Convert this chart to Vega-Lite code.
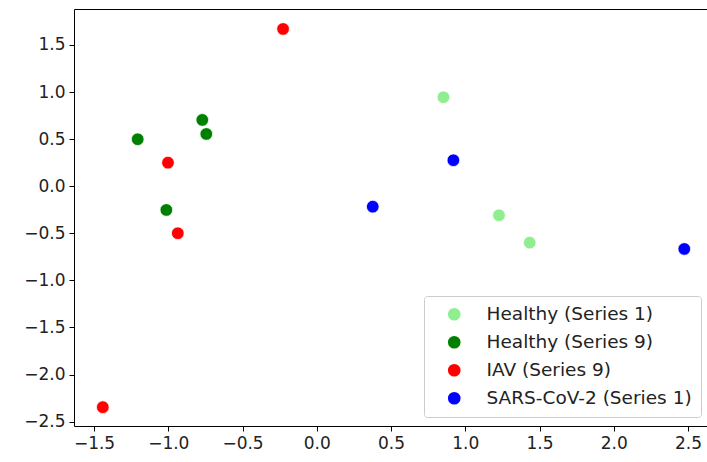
{
  "$schema": "https://vega.github.io/schema/vega-lite/v6.json",
  "autosize": {"type": "none"},
  "padding": {"left": 74, "top": 9, "right": 0, "bottom": 36},
  "width": 633,
  "height": 417,
  "background": "white",
  "config": {
    "font": "DejaVu Sans",
    "view": {"stroke": "#000000", "strokeWidth": 1},
    "axis": {
      "grid": false,
      "domain": false,
      "tickColor": "#000000",
      "tickSize": 5,
      "tickWidth": 1,
      "labelFont": "DejaVu Sans",
      "labelFontSize": 17,
      "labelColor": "#222222",
      "labelPadding": 4,
      "title": null
    }
  },
  "data": {
    "values": [
      {"x": 0.853, "y": 0.945, "group": "Healthy (Series 1)"},
      {"x": 1.227, "y": -0.308, "group": "Healthy (Series 1)"},
      {"x": 1.434, "y": -0.599, "group": "Healthy (Series 1)"},
      {"x": -1.206, "y": 0.499, "group": "Healthy (Series 9)"},
      {"x": -0.771, "y": 0.704, "group": "Healthy (Series 9)"},
      {"x": -0.744, "y": 0.555, "group": "Healthy (Series 9)"},
      {"x": -1.013, "y": -0.252, "group": "Healthy (Series 9)"},
      {"x": -0.227, "y": 1.67, "group": "IAV (Series 9)"},
      {"x": -1.002, "y": 0.25, "group": "IAV (Series 9)"},
      {"x": -0.936, "y": -0.499, "group": "IAV (Series 9)"},
      {"x": -1.441, "y": -2.346, "group": "IAV (Series 9)"},
      {"x": 0.377, "y": -0.217, "group": "SARS-CoV-2 (Series 1)"},
      {"x": 0.92, "y": 0.276, "group": "SARS-CoV-2 (Series 1)"},
      {"x": 2.475, "y": -0.666, "group": "SARS-CoV-2 (Series 1)"}
    ]
  },
  "mark": {"type": "point", "shape": "circle", "filled": true, "opacity": 1, "size": 160, "stroke": "white", "strokeWidth": 0.75},
  "encoding": {
    "x": {
      "field": "x", "type": "quantitative",
      "scale": {"domain": [-1.635, 2.628], "nice": false, "zero": false},
      "axis": {"values": [-1.5, -1.0, -0.5, 0.0, 0.5, 1.0, 1.5, 2.0, 2.5], "format": ".1f"}
    },
    "y": {
      "field": "y", "type": "quantitative",
      "scale": {"domain": [-2.546, 1.882], "nice": false, "zero": false},
      "axis": {"values": [-2.5, -2.0, -1.5, -1.0, -0.5, 0.0, 0.5, 1.0, 1.5], "format": ".1f"}
    },
    "color": {
      "field": "group", "type": "nominal",
      "scale": {
        "domain": ["Healthy (Series 1)", "Healthy (Series 9)", "IAV (Series 9)", "SARS-CoV-2 (Series 1)"],
        "range": ["#90EE90", "#008000", "#FF0000", "#0000FF"]
      },
      "legend": {
        "title": null,
        "orient": "none",
        "legendX": 350,
        "legendY": 287,
        "padding": 9,
        "symbolOffset": 12,
        "strokeColor": "#cccccc",
        "fillColor": "white",
        "cornerRadius": 3,
        "symbolType": "circle",
        "symbolSize": 160,
        "symbolStrokeWidth": 0,
        "labelFont": "DejaVu Sans",
        "labelFontSize": 18.5,
        "labelColor": "#222222",
        "labelOffset": 23,
        "rowPadding": 9,
        "labelLimit": 400
      }
    }
  }
}
